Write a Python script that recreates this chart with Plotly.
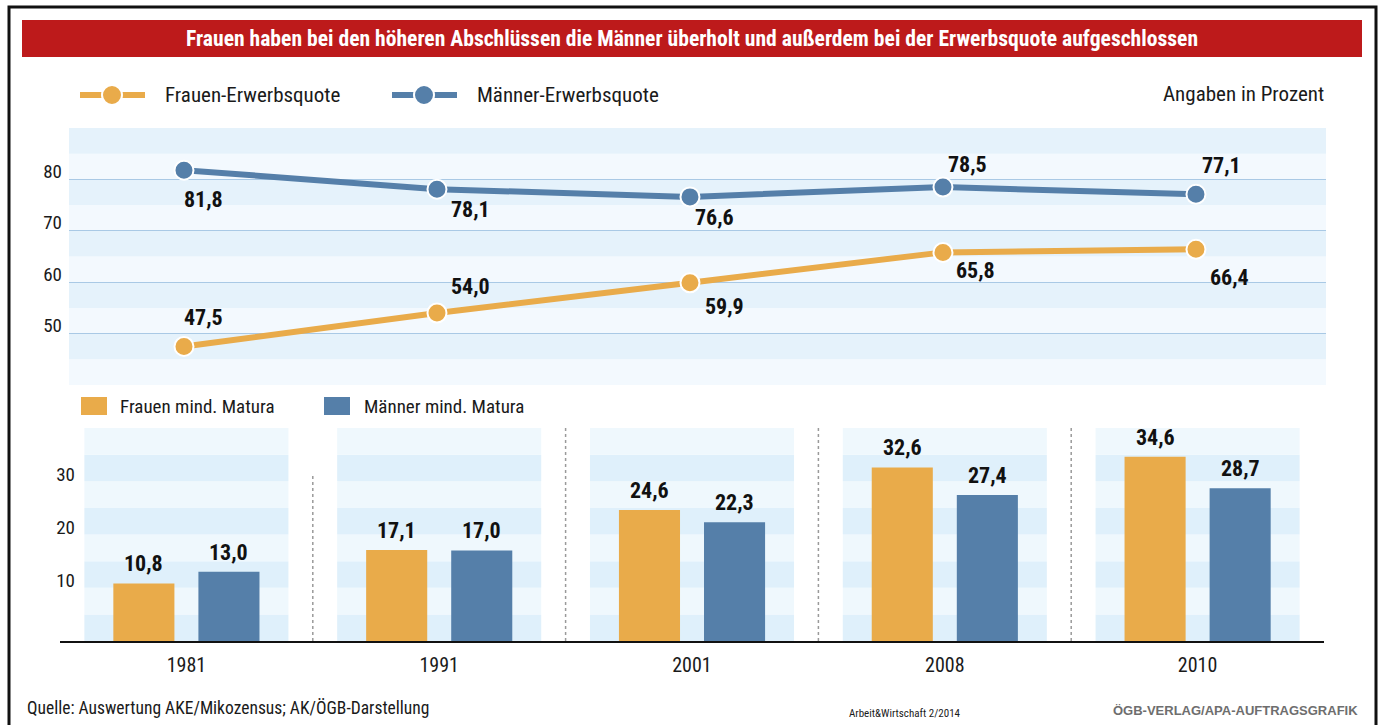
import plotly.graph_objects as go

# ---------------- data ----------------
years = ["1981", "1991", "2001", "2008", "2010"]
frauen_quote = [47.5, 54.0, 59.9, 65.8, 66.4]
maenner_quote = [81.8, 78.1, 76.6, 78.5, 77.1]
frauen_matura = [10.8, 17.1, 24.6, 32.6, 34.6]
maenner_matura = [13.0, 17.0, 22.3, 27.4, 28.7]
upper_ticks = [50, 60, 70, 80]
lower_ticks = [10, 20, 30]

# ---------------- style ----------------
W, H = 1381, 725
FONT = "Liberation Sans Narrow, Roboto Condensed, DejaVu Sans Condensed, Arial Narrow, sans-serif"
ORANGE = "#e9ab4a"
BLUE = "#557fa9"
RED = "#bd1a1b"
TXT = "#1a1a1a"

# label offsets (pixels) for the line chart labels: (dx, dy) dy positive = down
frauen_lbl = [(20, -29), (34, -27), (35, 24), (33, 18), (34, 28)]
maenner_lbl = [(20, 29), (34, 20), (25, 21), (25, -23), (26, -29)]

BAR_W = 0.2416
F_OFF = -0.289
M_OFF = 0.0475
BOX_HALF = 0.4036


def px(x):
    return x / W


def py(y):
    return 1 - y / H


def fmt(v):
    return f"{v:.1f}".replace(".", ",")


x_idx = list(range(len(years)))

fig = go.Figure()

# line chart
fig.add_trace(go.Scatter(
    x=x_idx, y=maenner_quote, mode="lines+markers", xaxis="x", yaxis="y",
    line=dict(color=BLUE, width=6),
    marker=dict(size=19, color=BLUE, line=dict(color="white", width=2)),
    cliponaxis=False, showlegend=False, hoverinfo="skip"))
fig.add_trace(go.Scatter(
    x=x_idx, y=frauen_quote, mode="lines+markers", xaxis="x", yaxis="y",
    line=dict(color=ORANGE, width=6),
    marker=dict(size=19, color=ORANGE, line=dict(color="white", width=2)),
    cliponaxis=False, showlegend=False, hoverinfo="skip"))

# bar chart
fig.add_trace(go.Bar(
    x=x_idx, y=frauen_matura, xaxis="x2", yaxis="y2", width=BAR_W, offset=F_OFF,
    marker=dict(color=ORANGE, line=dict(width=0)), showlegend=False, hoverinfo="skip"))
fig.add_trace(go.Bar(
    x=x_idx, y=maenner_matura, xaxis="x2", yaxis="y2", width=BAR_W, offset=M_OFF,
    marker=dict(color=BLUE, line=dict(width=0)), showlegend=False, hoverinfo="skip"))

shapes = []
annotations = []

# outer frame
shapes.append(dict(type="rect", xref="paper", yref="paper", x0=px(9), x1=px(1376),
                   y0=py(728), y1=py(7), line=dict(color="#111", width=3), fillcolor="rgba(0,0,0,0)",
                   layer="below"))
# title bar
shapes.append(dict(type="rect", xref="paper", yref="paper", x0=px(22), x1=px(1362),
                   y0=py(57), y1=py(20), line=dict(width=0), fillcolor=RED, layer="below"))
annotations.append(dict(xref="paper", yref="paper", x=px(692), y=py(39), showarrow=False,
                        text="Frauen haben bei den höheren Abschlüssen die Männer überholt und außerdem bei der Erwerbsquote aufgeschlossen",
                        font=dict(family=FONT, size=21.6, color="white", weight="bold"),
                        xanchor="center", yanchor="middle"))

# upper stripes
for v in range(40, 90, 5):
    col = "#e5f2fb" if (v // 5) % 2 == 1 else "#f3f9fe"
    shapes.append(dict(type="rect", xref="x domain", yref="y", x0=0, x1=1, y0=v, y1=v + 5,
                       line=dict(width=0), fillcolor=col, layer="below"))

# lower stripes (per year box)
for i in x_idx:
    for v in range(0, 40, 5):
        col = "#dff0fb" if (v // 5) % 2 == 0 else "#eff8fd"
        shapes.append(dict(type="rect", xref="x2", yref="y2", x0=i - BOX_HALF, x1=i + BOX_HALF,
                           y0=v, y1=v + 5, line=dict(width=0), fillcolor=col, layer="below"))

# dotted separators
sep_tops = [31, 40.5, 40.5, 40.5]
for i, top in enumerate(sep_tops):
    shapes.append(dict(type="line", xref="x2", yref="y2", x0=i + 0.5, x1=i + 0.5, y0=0, y1=top,
                       line=dict(color="#9a9a9a", width=1.5, dash="dot"), layer="below"))

# legend upper
for (x0, x1, cx, col, label, tx) in [(80, 145, 112, ORANGE, "Frauen-Erwerbsquote", 163),
                                     (392, 457, 424, BLUE, "Männer-Erwerbsquote", 475)]:
    shapes.append(dict(type="line", xref="paper", yref="paper", x0=px(x0), x1=px(x1),
                       y0=py(95), y1=py(95), line=dict(color=col, width=6)))
    shapes.append(dict(type="circle", xref="paper", yref="paper", x0=px(cx - 10), x1=px(cx + 10),
                       y0=py(105), y1=py(85), fillcolor=col, line=dict(color="white", width=2)))
    annotations.append(dict(xref="paper", yref="paper", x=px(tx), y=py(95), showarrow=False,
                            text=label, font=dict(family=FONT, size=21, color=TXT),
                            xanchor="left", yanchor="middle"))
annotations.append(dict(xref="paper", yref="paper", x=px(1326), y=py(94), showarrow=False,
                        text="Angaben in Prozent", font=dict(family=FONT, size=21, color=TXT),
                        xanchor="right", yanchor="middle"))

# legend lower
for (x0, col, label, tx) in [(81, ORANGE, "Frauen mind. Matura", 118),
                             (324, BLUE, "Männer mind. Matura", 362)]:
    shapes.append(dict(type="rect", xref="paper", yref="paper", x0=px(x0), x1=px(x0 + 26),
                       y0=py(415), y1=py(397), fillcolor=col, line=dict(width=0)))
    annotations.append(dict(xref="paper", yref="paper", x=px(tx), y=py(406), showarrow=False,
                            text=label, font=dict(family=FONT, size=19, color=TXT),
                            xanchor="left", yanchor="middle"))

# line labels
for vals, offs in [(frauen_quote, frauen_lbl), (maenner_quote, maenner_lbl)]:
    for i, (v, (dx, dy)) in enumerate(zip(vals, offs)):
        annotations.append(dict(xref="x", yref="y", x=i, y=v, text=fmt(v), showarrow=False,
                                xanchor="center", yanchor="middle", xshift=dx, yshift=-dy,
                                font=dict(family=FONT, size=22, color="#111", weight="bold")))

# bar labels
for vals, off in [(frauen_matura, F_OFF), (maenner_matura, M_OFF)]:
    for i, v in enumerate(vals):
        annotations.append(dict(xref="x2", yref="y2", x=i + off + BAR_W / 2, y=v, text=fmt(v),
                                showarrow=False, xanchor="center", yanchor="bottom", yshift=5,
                                font=dict(family=FONT, size=22, color="#111", weight="bold")))

# footer
annotations.append(dict(xref="paper", yref="paper", x=px(25), y=py(708), showarrow=False,
                        text="Quelle: Auswertung AKE/Mikozensus; AK/ÖGB-Darstellung",
                        font=dict(family=FONT, size=17.5, color=TXT), xanchor="left", yanchor="middle"))
annotations.append(dict(xref="paper", yref="paper", x=px(905), y=py(713), showarrow=False,
                        text="Arbeit&Wirtschaft 2/2014",
                        font=dict(family=FONT, size=11, color=TXT), xanchor="center", yanchor="middle"))
annotations.append(dict(xref="paper", yref="paper", x=px(1360), y=py(710), showarrow=False,
                        text="ÖGB-VERLAG/APA-AUFTRAGSGRAFIK",
                        font=dict(family="Liberation Sans, Arial, sans-serif", size=13, color="#6e6e6e",
                                  weight="bold"),
                        xanchor="right", yanchor="middle"))

fig.update_layout(
    width=W, height=H, autosize=False,
    margin=dict(l=0, r=0, t=0, b=0),
    paper_bgcolor="white", plot_bgcolor="rgba(0,0,0,0)",
    separators=",.",
    barmode="overlay",
    showlegend=False,
    font=dict(family=FONT, color=TXT),
    xaxis=dict(domain=[px(69), px(1326)], range=[-0.4545, 4.514], anchor="y",
               showticklabels=False, showgrid=False, zeroline=False, showline=False),
    yaxis=dict(domain=[py(385), py(128)], range=[40, 90], anchor="x",
               tickvals=upper_ticks, ticks="", showgrid=True, gridcolor="#a9c9e5", gridwidth=1,
               zeroline=False, showline=False, ticklabelposition="outside top",
               ticklabelstandoff=6, ticklabelshift=5,
               tickfont=dict(family=FONT, size=19, color=TXT)),
    xaxis2=dict(domain=[px(60), px(1324)], range=[-0.5, 4.5], anchor="y2",
                tickvals=x_idx, ticktext=years, ticks="", showgrid=False, zeroline=False,
                showline=True, linecolor="#111", linewidth=2, ticklabelstandoff=5,
                tickfont=dict(family=FONT, size=20, color=TXT)),
    yaxis2=dict(domain=[py(641), py(428)], range=[0, 40], anchor="free", position=px(77),
                tickvals=lower_ticks, ticks="", showgrid=False, zeroline=False, showline=False,
                ticklabelposition="outside top", ticklabelstandoff=2, ticklabelshift=6,
                tickfont=dict(family=FONT, size=19, color=TXT)),
    shapes=shapes,
    annotations=annotations,
)

fig.write_html("out.html")
